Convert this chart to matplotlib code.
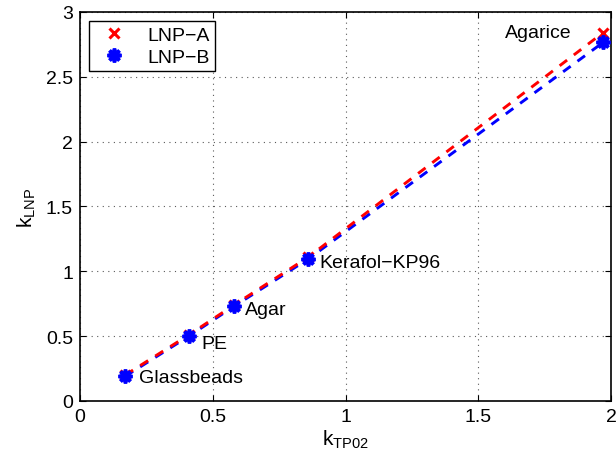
import matplotlib
matplotlib.use("Agg")
import matplotlib.pyplot as plt

plt.rcParams['font.family'] = ['Liberation Sans', 'DejaVu Sans']
plt.rcParams['mathtext.fontset'] = 'custom'
plt.rcParams['mathtext.rm'] = 'Liberation Sans'
plt.rcParams['mathtext.it'] = 'Liberation Sans:italic'

# Thermal conductivity of each sample: TP02 reference vs. LNP estimates
materials = ['Glassbeads', 'PE', 'Agar', 'Kerafol\u2212KP96', 'Agarice']
k_tp02 = [0.17, 0.41, 0.58, 0.86, 1.97]
k_lnp_a = [0.20, 0.51, 0.74, 1.11, 2.84]
k_lnp_b = [0.19, 0.50, 0.73, 1.095, 2.765]

x_ticks = [0, 0.5, 1, 1.5, 2]
y_ticks = [0, 0.5, 1, 1.5, 2, 2.5, 3]
x_tick_labels = ['0', '0.5', '1', '1.5', '2']
y_tick_labels = ['0', '0.5', '1', '1.5', '2', '2.5', '3']

# label offsets in points (dx, dy) and alignment
label_offsets = [(10, -2), (9, -6), (8, -3), (8, -4), (-23, 0)]
label_align = ['left', 'left', 'left', 'left', 'right']

fig = plt.figure(figsize=(6.16, 4.60), dpi=100)
ax = fig.add_axes([0.1299, 0.1261, 0.862, 0.8457])

dash = (0, (3.2, 2.9))
ax.plot(k_tp02, k_lnp_b, color='blue', lw=2.1, linestyle=dash, zorder=3)
ax.plot(k_tp02, k_lnp_a, color='red', lw=2.1, linestyle=dash, zorder=3.5)

ax.plot(k_tp02, k_lnp_a, linestyle='none', marker='x', color='red',
        markersize=7, markeredgewidth=2.2, label='LNP\u2212A', zorder=4)
ax.plot(k_tp02, k_lnp_b, linestyle='none', marker=(8, 2, 0), color='blue',
        markersize=10, markeredgewidth=2.6, label='LNP\u2212B', zorder=5)

for name, x, y, off, ha in zip(materials, k_tp02, k_lnp_a, label_offsets, label_align):
    ax.annotate(name, (x, y), xytext=off, textcoords='offset points',
                ha=ha, va='center', fontsize=14)

ax.set_xlim(0, 2)
ax.set_ylim(0, 3)
ax.set_xticks(x_ticks)
ax.set_xticklabels(x_tick_labels)
ax.set_yticks(y_ticks)
ax.set_yticklabels(y_tick_labels)
ax.tick_params(direction='in', length=4, width=0.8, labelsize=14,
               top=True, right=True, pad=5)
ax.grid(True, linestyle=(0, (1, 4)), color='0.35', linewidth=0.8)
for s in ax.spines.values():
    s.set_linewidth(1.2)

ax.set_xlabel(r'$\mathrm{k_{TP02}}$', fontsize=15, labelpad=2)
ax.set_ylabel(r'$\mathrm{k_{LNP}}$', fontsize=15, labelpad=6)

leg = ax.legend(loc='upper left', bbox_to_anchor=(0, 1), borderaxespad=0.45,
                fontsize=14, numpoints=1, fancybox=False, framealpha=1,
                edgecolor='black', handlelength=2.0, handletextpad=0.7,
                borderpad=0.3, labelspacing=0.2)
leg.get_frame().set_linewidth(1.0)

fig.savefig('out.png', dpi=100)
